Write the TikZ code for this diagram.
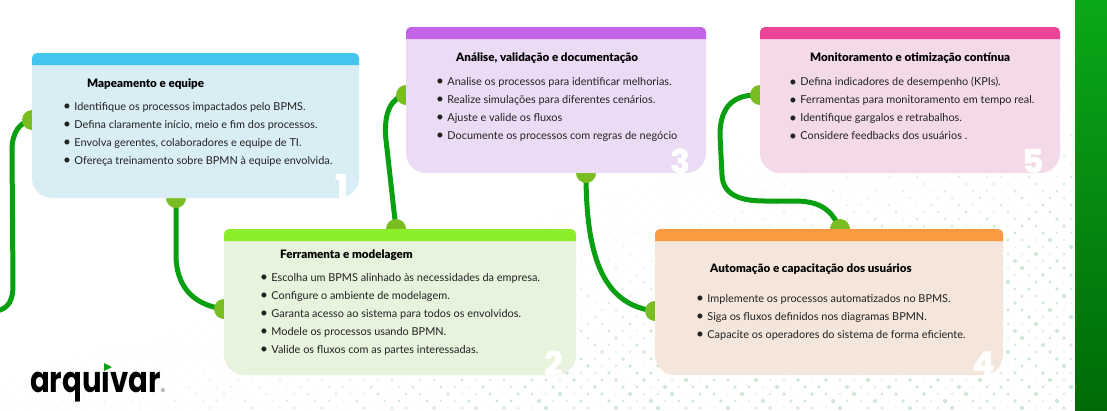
\documentclass[tikz,border=0pt]{standalone}
\usepackage{fontspec}
\setmainfont{Lato}
\newfontfamily\numfont{Poppins}[UprightFont=* ExtraBold]
\newfontfamily\logofont{Poppins}[UprightFont=* Bold]
\newfontfamily\headfont{Lato}[UprightFont=* Black]
\usetikzlibrary{calc}
\definecolor{linkgreen}{HTML}{08A010}
\definecolor{dotgreen}{HTML}{7ABD22}
\definecolor{spotgreen}{HTML}{CFE8D5}
\definecolor{barA}{HTML}{0AA818}
\definecolor{barB}{HTML}{006A08}
\definecolor{inkc}{HTML}{222222}
\pgfdeclarelayer{ground}
\pgfdeclarelayer{links}
\pgfdeclarelayer{cards}
\pgfsetlayers{ground,links,main,cards}
\tikzset{
  link/.style={draw=linkgreen,line width=5pt,line cap=round},
  joint/.style={circle,fill=dotgreen,minimum size=20pt,inner sep=0pt},
  cardtitle/.style={anchor=base west,inner sep=0pt,font=\fontsize{11.6}{12}\headfont,text=black},
  cardlist/.style={anchor=north west,inner sep=0pt,align=left,text=inkc,font=\fontsize{10.9}{18}\selectfont},
  cardnum/.style={anchor=base east,inner sep=0pt,text=white,font=\fontsize{33}{33}\numfont},
}
\newcommand{\bl}{\raisebox{-0.7pt}{\fontsize{13.5}{18}\selectfont •}\hspace{3.4pt}}
% name, x1,y1,x2,y2, head colour, body colour, digit
\newcommand{\cardbox}[8]{%
  \fill[#7] (#2,#3+5) arc[start angle=180,end angle=90,x radius=5,y radius=-5] -- (#4-5,#3)
     arc[start angle=90,end angle=0,x radius=5,y radius=-5] -- (#4,#5-20)
     arc[start angle=0,end angle=-90,x radius=20,y radius=-20] -- (#2+20,#5)
     arc[start angle=-90,end angle=-180,x radius=20,y radius=-20] -- cycle;
  \fill[#6] (#2,#3+12) -- (#2,#3+5) arc[start angle=180,end angle=90,x radius=5,y radius=-5] -- (#4-5,#3)
     arc[start angle=90,end angle=0,x radius=5,y radius=-5] -- (#4,#3+12) -- cycle;
  \node[minimum width=0pt,inner sep=0pt] (#1) at ({(#2+#4)/2},{(#3+#5)/2}) {};
}
\begin{document}
\begin{tikzpicture}[x=1pt,y=-1pt]
\useasboundingbox (0,0) rectangle (1107,410);
\begin{pgfonlayer}{ground}
\fill[white] (0,0) rectangle (1107,410);
% halftone background
\foreach \r in {0,...,58}{
  \foreach \c in {0,...,77}{
    \pgfmathsetmacro{\px}{\c*14+mod(\r,2)*7}
    \pgfmathsetmacro{\py}{\r*7+2}
    \pgfmathsetmacro{\st}{0.8*\px/1075+\py/410-0.9}
    \ifdim\st pt>0.03pt
      \pgfmathsetmacro{\vr}{0.65+0.35*sin(mod(\c*137,360)+mod(\r*251,360))}
      \pgfmathsetmacro{\rad}{(0.8+1.3*min(1,\st*2))*\vr}
      \pgfmathsetmacro{\mixp}{100*min(1,\st*2.4)}
      \fill[spotgreen!\mixp!white] (\px,\py) circle[radius=\rad];
    \fi
  }
}
% side bar
\fill[bottom color=barB,top color=barA,shading angle=0] (1075,0) rectangle (1107,410);
\end{pgfonlayer}

% joints
\node[joint] (j1l) at (32,120) {};
\node[joint] (j1b) at (176,198) {};
\node[joint] (j2l) at (224,309) {};
\node[joint] (j2t) at (396,229) {};
\node[joint] (j3l) at (406,95) {};
\node[joint] (j3b) at (586,173) {};
\node[joint] (j4l) at (655,311) {};
\node[joint] (j4t) at (840,229) {};
\node[joint] (j5l) at (760,95) {};
\coordinate (offleft) at (-3,311);

\begin{pgfonlayer}{links}
\draw[link] (offleft) .. controls (9,308) and (13,300) .. (13,285)
   -- (12,150) .. controls (12,132) and (20,122) .. (j1l.center);
\draw[link] (j1b.center) -- (176,255) .. controls (176,285) and (192,305) .. (j2l.center);
\draw[link] (j2t.center) -- (386,140) .. controls (383,112) and (392,97) .. (j3l.center);
\draw[link] (j3b.center) .. controls (586,250) and (600,305) .. (j4l.center);
\draw[link] (j5l.center) .. controls (735,94) and (720,105) .. (720,135)
   -- (722,175) .. controls (723,195) and (740,201) .. (765,201)
   -- (795,201) .. controls (820,201) and (832,210) .. (j4t.center);
\end{pgfonlayer}

\begin{pgfonlayer}{cards}
\definecolor{h1}{HTML}{45C6EE}\definecolor{b1}{HTML}{D9EDF5}
\definecolor{h2}{HTML}{8CEE2B}\definecolor{b2}{HTML}{E7F3DC}
\definecolor{h3}{HTML}{C263E8}\definecolor{b3}{HTML}{ECDBF5}
\definecolor{h4}{HTML}{FB9A40}\definecolor{b4}{HTML}{F4E6DB}
\definecolor{h5}{HTML}{EC4598}\definecolor{b5}{HTML}{F4DAE8}
\cardbox{c1}{32}{53}{359}{198}{h1}{b1}{1}
\cardbox{c2}{224}{229}{576}{375}{h2}{b2}{2}
\cardbox{c3}{406}{27}{706}{173}{h3}{b3}{3}
\cardbox{c4}{655}{229}{1003}{375}{h4}{b4}{4}
\cardbox{c5}{760}{27}{1060}{173}{h5}{b5}{5}

\node[cardnum] (n1) at (348,198) {1};
\node[cardnum] (n2) at (563,375) {2};
\node[cardnum] (n3) at (691,173) {3};
\node[cardnum] (n4) at (995,375) {4};
\node[cardnum] (n5) at (1044,173) {5};

\node[cardtitle] (t1) at (87,87) {Mapeamento e equipe};
\node[cardlist] (l1) at (63,102) {\bl Identifique os processos impactados pelo BPMS.\\\bl Defina claramente início, meio e fim dos processos.\\\bl Envolva gerentes, colaboradores e equipe de TI.\\\bl Ofereça treinamento sobre BPMN à equipe envolvida.};

\node[cardtitle] (t2) at (280,258) {Ferramenta e modelagem};
\node[cardlist] (l2) at (260,273) {\bl Escolha um BPMS alinhado às necessidades da empresa.\\\bl Configure o ambiente de modelagem.\\\bl Garanta acesso ao sistema para todos os envolvidos.\\\bl Modele os processos usando BPMN.\\\bl Valide os fluxos com as partes interessadas.};

\node[cardtitle] (t3) at (456,61) {Análise, validação e documentação};
\node[cardlist] (l3) at (436,77) {\bl Analise os processos para identificar melhorias.\\\bl Realize simulações para diferentes cenários.\\\bl Ajuste e valide os fluxos\\\bl Documente os processos com regras de negócio};

\node[cardtitle] (t4) at (710,272) {Automação e capacitação dos usuários};
\node[cardlist] (l4) at (696,294) {\bl Implemente os processos automatizados no BPMS.\\\bl Siga os fluxos definidos nos diagramas BPMN.\\\bl Capacite os operadores do sistema de forma eficiente.};

\node[cardtitle] (t5) at (810,61) {Monitoramento e otimização contínua};
\node[cardlist] (l5) at (789,77) {\bl Defina indicadores de desempenho (KPIs).\\\bl Ferramentas para monitoramento em tempo real.\\\bl Identifique gargalos e retrabalhos.\\\bl Considere feedbacks dos usuários .};
\end{pgfonlayer}

% logo
\node[anchor=base west,inner sep=0pt,xscale=0.81,transform shape,font=\fontsize{36}{36}\logofont,text=black] (logo) at (30,392) {arquivar};
\fill[white] (98,358) rectangle (114,370.5);
\fill[linkgreen] (104,363) -- (112,367) -- (104,371) -- cycle;
\node[anchor=base west,inner sep=0pt,font=\fontsize{5.5}{5.5}\selectfont,text=black!70] (reg) at (160.5,392) {®};
\end{tikzpicture}
\end{document}
